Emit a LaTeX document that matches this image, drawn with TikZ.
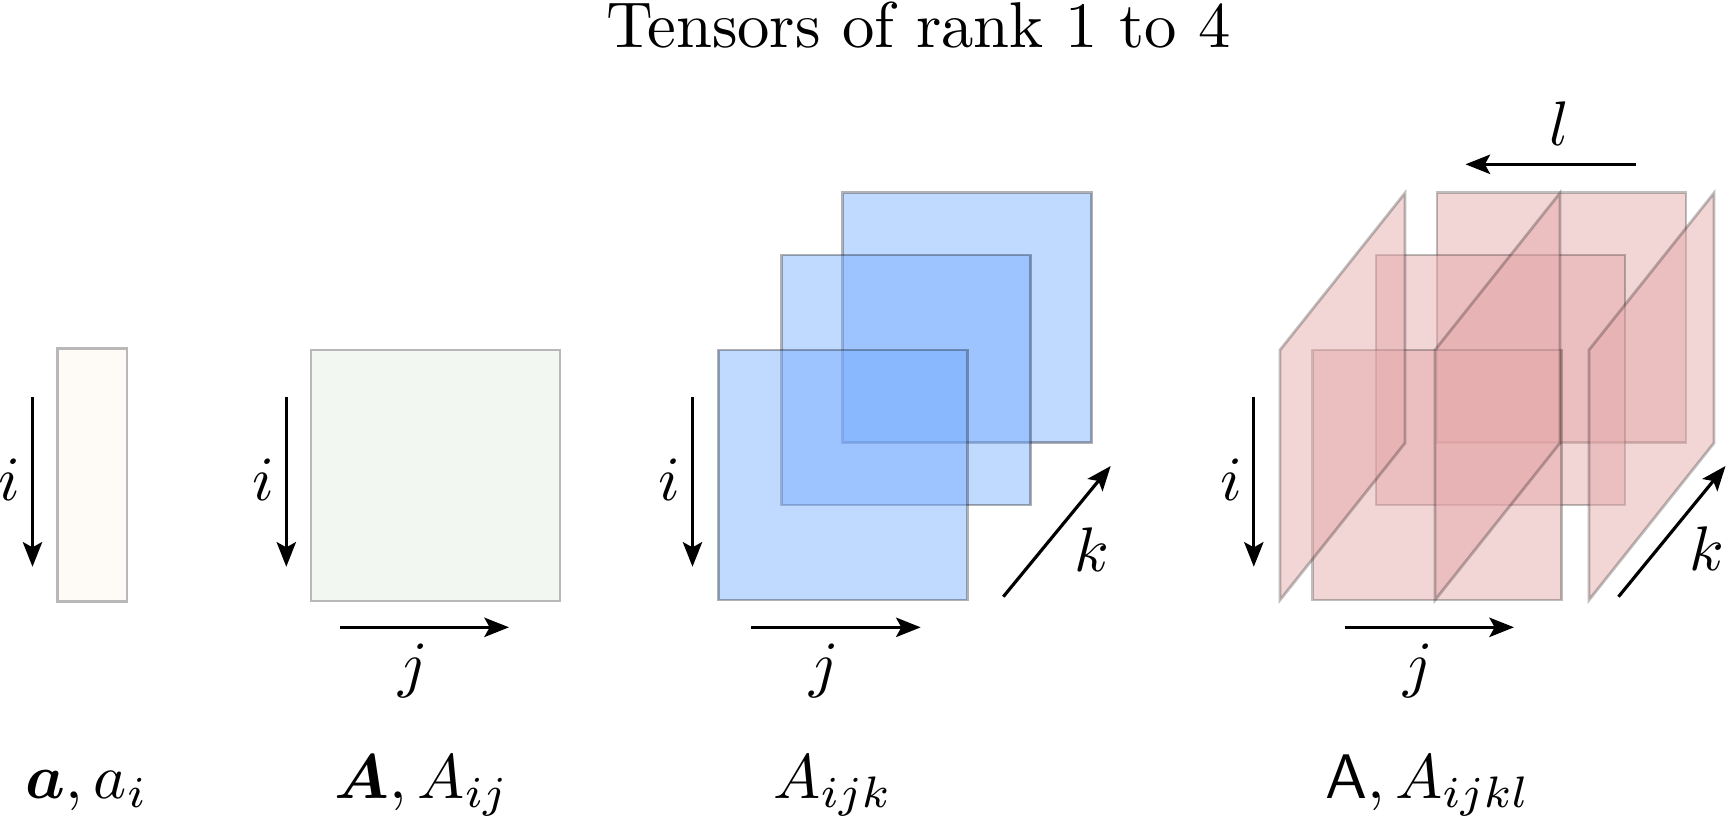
\documentclass[tikz,border=0pt]{standalone}
\usepackage{amsmath}
\usepackage{bm}
\usepackage{graphicx}
\usetikzlibrary{arrows.meta}
\definecolor{vecfill}{RGB}{254,250,245}
\definecolor{matfill}{RGB}{243,247,241}
\definecolor{bluefill}{RGB}{114,170,255}
\definecolor{pinkfill}{RGB}{228,167,168}
\newcommand{\bigtxt}[1]{\scalebox{1.79}{#1}}
\tikzset{
  lbl/.style={inner sep=0pt, anchor=base},
  axis/.style={line width=0.9pt, -{Stealth[length=7pt,width=5.5pt,inset=1.5pt]}},
  plainbox/.style={draw=black!28, line width=0.8pt},
  layerthree/.style={fill=bluefill, fill opacity=0.45, draw=black, draw opacity=0.3, line width=0.8pt},
  layerfour/.style={fill=pinkfill, fill opacity=0.48, draw=black, draw opacity=0.25, line width=0.8pt},
}
\begin{document}
\begin{tikzpicture}[x=0.01cm,y=-0.01cm]
\useasboundingbox (0,0) rectangle (1729,817);
\node[lbl] (title) at (918.4,47.5) {\scalebox{1.84}{Tensors of rank 1 to 4}};

% rank 1
\draw[plainbox, fill=vecfill] (57.5,348.5) rectangle (127,601.5);
\coordinate (i1s) at (32.5,397); \coordinate (i1e) at (32.5,566.7);
\draw[axis] (i1s) -- (i1e);
\node[lbl] (i1) at (9,500) {\bigtxt{$i$}};
\node[lbl] (n1) at (87,798) {\bigtxt{$\boldsymbol{a}, a_i$}};

% rank 2
\draw[plainbox, fill=matfill] (311,350) rectangle (560,601);
\coordinate (i2s) at (286.3,397); \coordinate (i2e) at (286.3,566.7);
\draw[axis] (i2s) -- (i2e);
\node[lbl] (i2) at (263,500) {\bigtxt{$i$}};
\coordinate (j2s) at (339.8,627.3); \coordinate (j2e) at (509,627.3);
\draw[axis] (j2s) -- (j2e);
\node[lbl] (j2) at (413,685) {\bigtxt{$j$}};
\node[lbl] (n2) at (422,798) {\bigtxt{$\boldsymbol{A}, A_{ij}$}};

% rank 3
\draw[layerthree] (842.7,192.5) rectangle (1091.7,442.5);
\draw[layerthree] (781.7,255) rectangle (1030.7,505);
\draw[layerthree] (718.3,350) rectangle (967.3,600);
\coordinate (i3s) at (692.5,397); \coordinate (i3e) at (692.5,566.7);
\draw[axis] (i3s) -- (i3e);
\node[lbl] (i3) at (669,500) {\bigtxt{$i$}};
\coordinate (j3s) at (751,627.3); \coordinate (j3e) at (920.7,627.3);
\draw[axis] (j3s) -- (j3e);
\node[lbl] (j3) at (824.5,685) {\bigtxt{$j$}};
\coordinate (k3s) at (1003.3,596.7); \coordinate (k3e) at (1110.7,466);
\draw[axis] (k3s) -- (k3e);
\node[lbl] (k3) at (1091.7,571.5) {\bigtxt{$k$}};
\node[lbl] (n3) at (833,798) {\bigtxt{$A_{ijk}$}};

% rank 4
\draw[layerfour] (1437,192.5) rectangle (1686,442.5);
\draw[layerfour] (1376,255) rectangle (1625,505);
\draw[layerfour] (1312.7,350) rectangle (1561.7,600);
\foreach \x in {1280,1435,1589}{
  \draw[layerfour] (\x,350) -- (\x+125,193) -- (\x+125,443) -- (\x,600) -- cycle;
}
\coordinate (i4s) at (1253.8,397); \coordinate (i4e) at (1253.8,566.7);
\draw[axis] (i4s) -- (i4e);
\node[lbl] (i4) at (1231,500) {\bigtxt{$i$}};
\coordinate (j4s) at (1345,627.3); \coordinate (j4e) at (1514,627.3);
\draw[axis] (j4s) -- (j4e);
\node[lbl] (j4) at (1418.5,685) {\bigtxt{$j$}};
\coordinate (k4s) at (1618.5,596.7); \coordinate (k4e) at (1725.5,466);
\draw[axis] (k4s) -- (k4e);
\node[lbl] (k4) at (1707,570.5) {\bigtxt{$k$}};
\coordinate (l4s) at (1636,164.3); \coordinate (l4e) at (1465.5,164.3);
\draw[axis] (l4s) -- (l4e);
\node[lbl] (l4) at (1560,145) {\bigtxt{$l$}};
\node[lbl] (n4) at (1428,798) {\bigtxt{$\mathsf{A}, A_{ijkl}$}};
\end{tikzpicture}
\end{document}
